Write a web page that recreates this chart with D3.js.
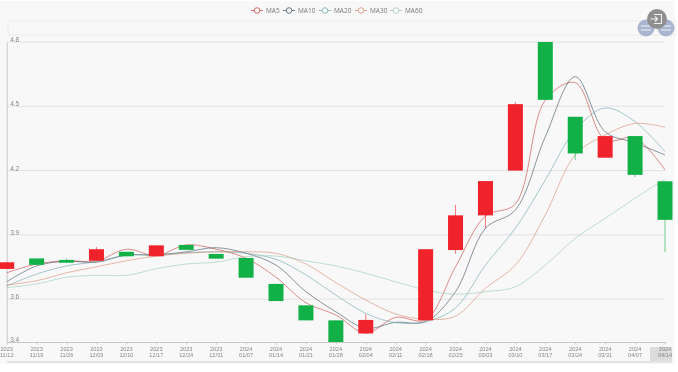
<!DOCTYPE html>
<html>
<head>
<meta charset="utf-8">
<script src="https://cdn.jsdelivr.net/npm/d3@7"></script>
<style>
    html, body { margin: 0; padding: 0; background: #fff; overflow: hidden; }
    #kline_svg svg { display: block; font-family: "Open Sans", sans-serif; filter: blur(0.35px); }
</style>
</head>
<body>
<div id="kline_svg"></div>
<script>
var dates = ["2023\n11/12", "2023\n11/19", "2023\n11/26", "2023\n12/03", "2023\n12/10", "2023\n12/17",
    "2023\n12/24", "2023\n12/31", "2024\n01/07", "2024\n01/14", "2024\n01/21", "2024\n01/28",
    "2024\n02/04", "2024\n02/11", "2024\n02/18", "2024\n02/25", "2024\n03/03", "2024\n03/10",
    "2024\n03/17", "2024\n03/24", "2024\n03/31", "2024\n04/07", "2024\n04/14"];

// null on 02/11, no bar is drawn for that week
var open = [3.741, 3.79, 3.783, 3.779, 3.821, 3.80, 3.853, 3.811, 3.792, 3.671, 3.571, 3.501,
    3.44, null, 3.501, 3.829, 3.991, 4.20, 4.80, 4.451, 4.26, 4.361, 4.15];
var close = [3.772, 3.76, 3.77, 3.833, 3.80, 3.851, 3.83, 3.789, 3.70, 3.591, 3.501, 3.40,
    3.503, null, 3.833, 3.991, 4.151, 4.51, 4.53, 4.28, 4.361, 4.18, 3.97];
var low = [3.741, 3.76, 3.77, 3.779, 3.80, 3.80, 3.83, 3.789, 3.70, 3.591, 3.501, 3.40,
    3.44, null, 3.501, 3.812, 3.93, 4.20, 4.53, 4.25, 4.26, 4.17, 3.82];
var high = [3.772, 3.79, 3.79, 3.843, 3.821, 3.851, 3.853, 3.811, 3.792, 3.671, 3.571, 3.501,
    3.53, null, 3.833, 4.04, 4.151, 4.52, 4.80, 4.451, 4.361, 4.361, 4.15];

var ma5 = [3.723, 3.764, 3.779, 3.778, 3.833, 3.803, 3.853, 3.833, 3.791, 3.702, 3.583, 3.526,
    3.441, 3.515, 3.503, 3.751, 3.988, 4.044, 4.529, 4.61, 4.343, 4.352, 4.203];
var ma10 = [3.681, 3.755, 3.777, 3.772, 3.806, 3.806, 3.821, 3.84, 3.814, 3.759, 3.635, 3.541,
    3.464, 3.492, 3.495, 3.635, 3.931, 4.016, 4.358, 4.638, 4.381, 4.329, 4.273];
var ma20 = [3.661, 3.717, 3.755, 3.775, 3.805, 3.806, 3.817, 3.821, 3.814, 3.786, 3.713, 3.619,
    3.534, 3.49, 3.495, 3.559, 3.759, 3.931, 4.156, 4.389, 4.492, 4.428, 4.288];
var ma30 = [3.666, 3.686, 3.723, 3.751, 3.779, 3.801, 3.814, 3.821, 3.821, 3.814, 3.764, 3.677,
    3.596, 3.531, 3.506, 3.521, 3.651, 3.759, 3.993, 4.273, 4.366, 4.42, 4.402];
var ma60 = [3.653, 3.671, 3.702, 3.711, 3.711, 3.742, 3.764, 3.773, 3.798, 3.801, 3.779, 3.755,
    3.721, 3.681, 3.643, 3.623, 3.635, 3.658, 3.759, 3.884, 3.977, 4.071, 4.161];

var yTicks = [3.4, 3.6, 3.9, 4.2, 4.5, 4.8];
var maNames = ["MA5", "MA10", "MA20", "MA30", "MA60"];
var maSeries = [ma5, ma10, ma20, ma30, ma60];
var maColors = ["#c23531", "#2f4554", "#61a0a8", "#d48265", "#91c7ae"];
var legendX = [257, 289, 325, 361, 396];

var upColor = "#f0222c", downColor = "#12b148", axisColor = "#c8c8c8", textColor = "#888";

var svg = d3.select("#kline_svg").append("svg")
    .attr("width", 678)
    .attr("height", 372);

// page panel
svg.append("rect").attr("x", 0).attr("y", 1).attr("width", 675).attr("height", 363).attr("fill", "#f8f8f8");

var xScale = d3.scalePoint().domain(dates).range([6.7, 665]);
var yScale = d3.scaleLinear().domain([3.4, 4.8]).range([342, 42]);

// top slider strip
svg.append("rect").attr("x", 8).attr("y", 21).attr("width", 667).attr("height", 14)
    .attr("fill", "none").attr("stroke", "#eeeeee").attr("stroke-width", 1.2);

// grid
svg.append("g").selectAll("line")
    .data(yTicks.slice(1))
    .enter().append("line")
    .attr("x1", 6.7).attr("x2", 665)
    .attr("y1", function (d) { return yScale(d); })
    .attr("y2", function (d) { return yScale(d); })
    .attr("stroke", "#e2e2e2");

// y axis
var yAxis = d3.axisLeft(yScale).tickValues(yTicks).tickSize(0).tickFormat(d3.format(".1f"));
var yG = svg.append("g").attr("transform", "translate(6.7,0)").call(yAxis);
yG.select(".domain").attr("stroke", axisColor);
yG.selectAll("text")
    .attr("x", 3.5).attr("dy", "-0.5px")
    .style("text-anchor", "start")
    .style("font-size", "6.5px")
    .attr("fill", textColor);

// x axis
var xAxis = d3.axisBottom(xScale).tickSize(2.5).tickSizeOuter(0).tickFormat("");
var xG = svg.append("g").attr("transform", "translate(0,342)").call(xAxis);
xG.select(".domain").attr("stroke", axisColor);
xG.selectAll("line").attr("stroke", axisColor);

// bottom slider
svg.append("rect").attr("x", 650).attr("y", 347).attr("width", 22).attr("height", 14).attr("fill", "#dcdcdc");
svg.append("line").attr("x1", 7).attr("x2", 672).attr("y1", 362).attr("y2", 362)
    .attr("stroke", "#cfcfcf");

var labels = svg.append("g").selectAll("text")
    .data(dates)
    .enter().append("text")
    .attr("text-anchor", "middle")
    .style("font-family", "'Liberation Sans', sans-serif")
    .style("font-size", "5.6px")
    .attr("fill", textColor);
labels.selectAll("tspan")
    .data(function (d) { return d.split("\n").map(function (t) { return { text: t, date: d }; }); })
    .enter().append("tspan")
    .attr("x", function (d) { return xScale(d.date); })
    .attr("y", function (d, i) { return 350.5 + i * 6.5; })
    .text(function (d) { return d.text; });

// moving averages, they sit under the candles
var line = d3.line()
    .x(function (d, i) { return xScale(dates[i]); })
    .y(function (d) { return yScale(d); })
    .curve(d3.curveCatmullRom.alpha(0.5));

svg.append("g").selectAll("path")
    .data(maSeries)
    .enter().append("path")
    .attr("d", line)
    .attr("fill", "none")
    .attr("stroke", function (d, i) { return maColors[i]; })
    .attr("stroke-width", 0.7)
    .attr("stroke-opacity", 0.8);

// candles
var bars = dates.map(function (d, i) {
    return { date: d, open: open[i], close: close[i], low: low[i], high: high[i] };
}).filter(function (d) { return d.open !== null; });

function candleColor(d) { return d.close > d.open ? upColor : downColor; }

svg.append("g").selectAll("line")
    .data(bars)
    .enter().append("line")
    .attr("x1", function (d) { return xScale(d.date); })
    .attr("x2", function (d) { return xScale(d.date); })
    .attr("y1", function (d) { return yScale(d.high); })
    .attr("y2", function (d) { return yScale(d.low); })
    .attr("stroke", candleColor)
    .attr("stroke-width", 0.6);

svg.append("g").selectAll("rect")
    .data(bars)
    .enter().append("rect")
    .attr("x", function (d) { return xScale(d.date) - 7.5; })
    .attr("width", 15)
    .attr("y", function (d) { return yScale(Math.max(d.open, d.close)); })
    .attr("height", function (d) { return Math.abs(yScale(d.open) - yScale(d.close)); })
    .attr("fill", candleColor);

// legend
var legend = svg.append("g").selectAll("g")
    .data(maNames)
    .enter().append("g")
    .attr("transform", function (d, i) { return "translate(" + legendX[i] + ",10.5)"; });
legend.append("line")
    .attr("x1", -6).attr("x2", 6)
    .attr("stroke", function (d, i) { return maColors[i]; })
    .attr("stroke-width", 0.7);
legend.append("circle")
    .attr("r", 2.8)
    .attr("fill", "#f8f8f8")
    .attr("stroke", function (d, i) { return maColors[i]; })
    .attr("stroke-width", 0.7);
legend.append("text")
    .attr("x", 9).attr("y", 2.5)
    .style("font-size", "6.5px")
    .attr("fill", "#777")
    .text(function (d) { return d; });

// floating toolbar buttons
var toolbar = svg.append("g");
[646, 666].forEach(function (cx) {
    toolbar.append("circle").attr("cx", cx).attr("cy", 28).attr("r", 8.5).attr("fill", "#aab6cf");
    toolbar.append("path")
        .attr("d", "M" + (cx - 5) + ",26H" + (cx + 5) + "M" + (cx - 5) + ",30H" + (cx + 5))
        .attr("stroke", "#eef0f5").attr("stroke-width", 1.2);
});
toolbar.append("circle").attr("cx", 657).attr("cy", 19).attr("r", 10).attr("fill", "#8f8f8f");
toolbar.append("path")
    .attr("d", "M654,14.5H661.5V23.5H654M650.5,19H657.5M655,16.5L657.5,19L655,21.5")
    .attr("fill", "none").attr("stroke", "#f2f2f2").attr("stroke-width", 1.1);
</script>
</body>
</html>
